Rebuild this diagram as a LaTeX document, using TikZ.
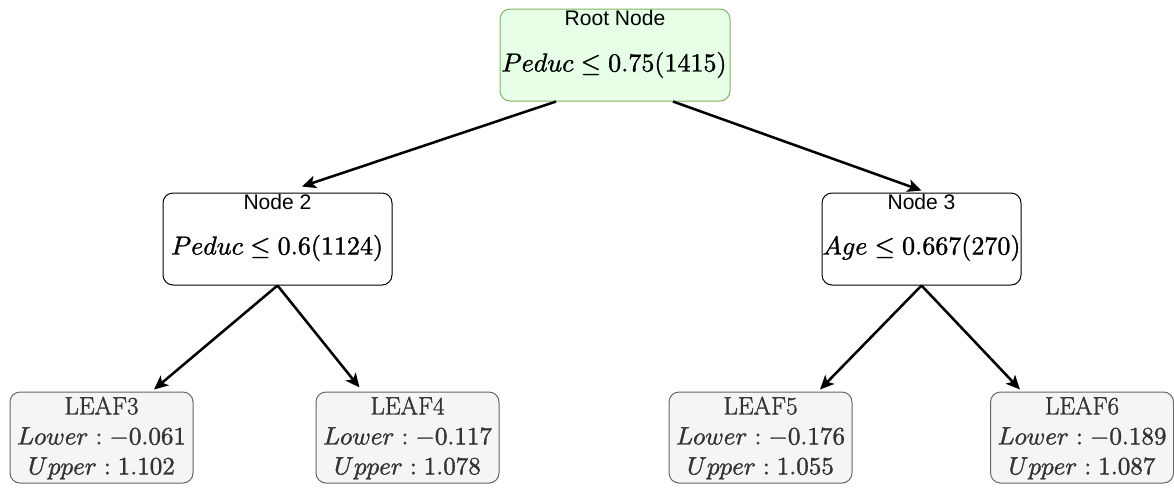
\documentclass[tikz,border=0pt]{standalone}
\usepackage{fontspec}
\newfontfamily\labelfont{Liberation Sans}
% math letters, digits and symbols from the 10pt designs, scaled to any size
\DeclareFontShape{OT1}{cmr}{m}{n}{<->cmr10}{}
\DeclareFontShape{OML}{cmm}{m}{it}{<->cmmi10}{}
\DeclareFontShape{OMS}{cmsy}{m}{n}{<->cmsy10}{}
\usetikzlibrary{arrows.meta,calc}
\definecolor{rootfill}{HTML}{E6FFE6}
\definecolor{rootline}{HTML}{82B366}
\definecolor{leaffill}{HTML}{F5F5F5}
\definecolor{leafline}{HTML}{666666}
\definecolor{leaftext}{HTML}{333333}
% slightly heavier glyphs: fill and stroke the text outlines
\newcommand{\heavyink}{\special{pdf:literal direct 2 Tr 0.25 w}}
\tikzset{
  box/.style={draw, rounded corners=7.5pt, line width=0.75pt, inner sep=0pt, minimum height=69pt},
  splitbox/.style={box, fill=white, draw=black},
  rootbox/.style={box, fill=rootfill, draw=rootline},
  leafbox/.style={box, fill=leaffill, draw=leafline, minimum width=137.25pt, minimum height=68.25pt},
  title/.style={font=\labelfont\fontsize{15.8}{18}\selectfont, inner sep=0pt},
  rule/.style={font=\fontsize{19.5}{23}\selectfont\heavyink, inner sep=0pt},
  leaftxt/.style={font=\fontsize{18.8}{22.5}\selectfont\heavyink, text=leaftext, align=center, inner sep=0pt},
  edge/.style={line width=1.9pt, -{Stealth[length=10.5pt,width=9.5pt,inset=2.6pt]}}
}
\begin{document}
\begin{tikzpicture}[x=0.75pt, y=-0.75pt]
  \useasboundingbox (0,0) rectangle (1174,487);

  % root split
  \node[rootbox, minimum width=172.5pt] (root) at (615,55) {};
  \node[title] (roott) at (615,18) {Root Node};
  \node[rule] (rootr) at (614,65) {$Peduc \leq 0.75 (1415)$};

  % second level splits
  \node[splitbox, minimum width=171.75pt] (n2) at (277.5,239) {};
  \node[title] (n2t) at (277.5,202) {Node 2};
  \node[rule] (n2r) at (277,248) {$Peduc \leq 0.6 (1124)$};

  \node[splitbox, minimum width=149.25pt] (n3) at (921.5,239) {};
  \node[title] (n3t) at (921.5,202) {Node 3};
  \node[rule] (n3r) at (921.5,248) {$Age \leq 0.667 (270)$};

  % leaves
  \node[leafbox] (l3) at (101.5,437.5) {};
  \node[leaftxt] (l3t) at (101.5,438) {$\mathrm{LEAF3}$\\$Lower: -0.061$\\$Upper: 1.102$};
  \node[leafbox] (l4) at (407.5,437.5) {};
  \node[leaftxt] (l4t) at (407.5,438) {$\mathrm{LEAF4}$\\$Lower: -0.117$\\$Upper: 1.078$};
  \node[leafbox] (l5) at (760.5,437.5) {};
  \node[leaftxt] (l5t) at (760.5,438) {$\mathrm{LEAF5}$\\$Lower: -0.176$\\$Upper: 1.055$};
  \node[leafbox] (l6) at (1082,437.5) {};
  \node[leaftxt] (l6t) at (1082,438) {$\mathrm{LEAF6}$\\$Lower: -0.189$\\$Upper: 1.087$};

  % connectors
  \draw[edge] ($(root.south)+(-59,0)$) -- ($(n2.north)+(24.5,-6)$);
  \draw[edge] ($(root.south)+(58,0)$) -- ($(n3.north)+(0,-2)$);
  \draw[edge] (n2.south) -- ($(l3.north)+(52.5,-2)$);
  \draw[edge] (n2.south) -- ($(l4.north)+(-48,-4)$);
  \draw[edge] (n3.south) -- ($(l5.north)+(59.5,-2)$);
  \draw[edge] (n3.south) -- ($(l6.north)+(-62,-2)$);
\end{tikzpicture}
\end{document}
